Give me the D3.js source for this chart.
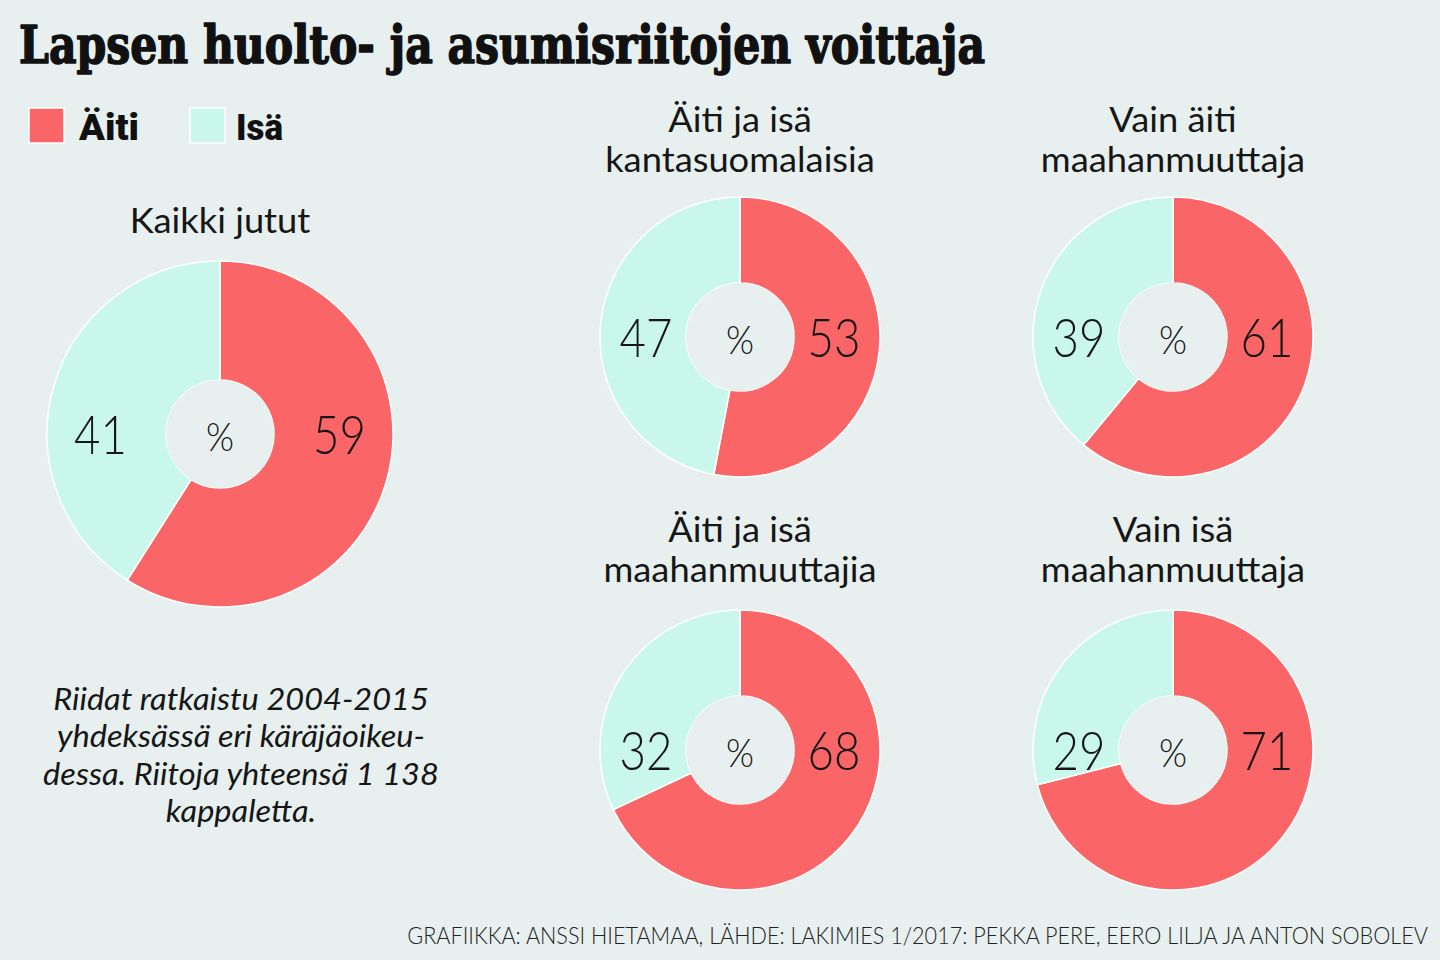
<!DOCTYPE html>
<html>
<head>
<meta charset="utf-8">
<script src="https://cdn.jsdelivr.net/npm/d3@7"></script>
<style>
  html, body { margin: 0; padding: 0; background: #e7f0ef; }
  svg { display: block; }
</style>
</head>
<body>
<svg id="chart" width="1440" height="960"></svg>
<script>
// ---- data ----
const mainTitle = "Lapsen huolto- ja asumisriitojen voittaja";
const seriesNames = ["Äiti", "Isä"];
const chartTitles = [
  ["Kaikki jutut"],
  ["Äiti ja isä", "kantasuomalaisia"],
  ["Vain äiti", "maahanmuuttaja"],
  ["Äiti ja isä", "maahanmuuttajia"],
  ["Vain isä", "maahanmuuttaja"]
];
const aitiValues = [59, 53, 61, 68, 71];
const isaValues  = [41, 47, 39, 32, 29];
const centerLabel = "%";
const noteLines = [
  "Riidat ratkaistu 2004-2015",
  "yhdeksässä eri käräjäoikeu-",
  "dessa. Riitoja yhteensä 1 138",
  "kappaletta."
];
const sourceText = "GRAFIIKKA: ANSSI HIETAMAA, LÄHDE: LAKIMIES 1/2017: PEKKA PERE, EERO LILJA JA ANTON SOBOLEV";

// ---- layout (positions / sizes) ----
const layout = [
  { cx: 220, cy: 434, ro: 173, ri: 54, t1: 233 },
  { cx: 740, cy: 337, ro: 140, ri: 54, t1: 132 },
  { cx: 1173, cy: 337, ro: 140, ri: 54, t1: 132 },
  { cx: 740, cy: 750, ro: 140, ri: 54, t1: 542 },
  { cx: 1173, cy: 750, ro: 140, ri: 54, t1: 542 }
];
const lineGap = 40;
const bg = "#e7f0ef";
const colors = d3.scaleOrdinal().domain(seriesNames).range(["#fa6567", "#c9f7ec"]);
const ink = "#161616";
const sans = "Lato, 'Open Sans', sans-serif";

const svg = d3.select("#chart");
svg.append("rect").attr("width", 1440).attr("height", 960).attr("fill", bg);

// title
svg.append("text")
  .attr("x", 19).attr("y", 63)
  .attr("textLength", 966).attr("lengthAdjust", "spacingAndGlyphs")
  .attr("font-family", "'DejaVu Serif', serif")
  .attr("font-weight", 900)
  .attr("font-size", 52)
  .attr("fill", "#111")
  .attr("stroke", "#111").attr("stroke-width", 1.6).attr("stroke-linejoin", "round")
  .text(mainTitle);

// legend
const legendPos = [{ x: 29, tx: 79, tw: 60 }, { x: 190, tx: 236, tw: 47 }];
const legend = svg.append("g");
seriesNames.forEach((name, i) => {
  legend.append("rect")
    .attr("x", legendPos[i].x).attr("y", 108)
    .attr("width", 35).attr("height", 35)
    .attr("fill", colors(name))
    .attr("stroke", "#ffffff").attr("stroke-width", 1.5);
  legend.append("text")
    .attr("x", legendPos[i].tx).attr("y", 140)
    .attr("textLength", legendPos[i].tw).attr("lengthAdjust", "spacingAndGlyphs")
    .attr("font-family", "Roboto, sans-serif")
    .attr("font-weight", 900)
    .attr("font-size", 37)
    .attr("fill", "#111")
    .text(name);
});

// donuts
const pie = d3.pie().sort(null).value(d => d.value).startAngle(0).endAngle(2 * Math.PI);

chartTitles.forEach((lines, k) => {
  const L = layout[k];
  const g = svg.append("g").attr("transform", `translate(${L.cx},${L.cy})`);
  const data = [
    { name: seriesNames[0], value: aitiValues[k] },
    { name: seriesNames[1], value: isaValues[k] }
  ];
  const arc = d3.arc().innerRadius(L.ri).outerRadius(L.ro);
  const arcs = pie(data);

  g.selectAll("path.slice")
    .data(arcs)
    .join("path")
    .attr("class", "slice")
    .attr("d", arc)
    .attr("fill", d => colors(d.data.name))
    .attr("stroke", "#ffffff")
    .attr("stroke-width", 1.5)
    .attr("stroke-linejoin", "round");

  // inner disc (background colour)
  g.append("circle").attr("r", L.ri).attr("fill", bg);

  // value labels: right side = Äiti, left side = Isä
  const mid = (L.ri + L.ro) / 2 + (L.ro > 150 ? 6 : -3);
  arcs.forEach((a, i) => {
    const x = i === 0 ? mid : -mid;
    g.append("text")
      .attr("transform", `translate(${x},20) scale(0.86,1)`)
      .attr("text-anchor", "middle")
      .attr("font-family", sans)
      .attr("font-weight", 300)
      .attr("font-size", 53)
      .attr("fill", ink)
      .text(a.data.value);
  });

  g.append("text")
    .attr("transform", "translate(0,17) scale(0.9,1)")
    .attr("text-anchor", "middle")
    .attr("font-family", sans)
    .attr("font-weight", 300)
    .attr("font-size", 40)
    .attr("fill", ink)
    .text(centerLabel);

  // chart title lines (slightly smaller font, stretched to keep width)
  lines.forEach((ln, j) => {
    svg.append("text")
      .attr("transform", `translate(${L.cx},${L.t1 + j * lineGap}) scale(1.1,1.05)`)
      .attr("text-anchor", "middle")
      .attr("font-family", sans)
      .attr("font-weight", 400)
      .attr("font-size", 33)
      .attr("fill", ink)
      .text(ln);
  });
});

// note
noteLines.forEach((ln, i) => {
  svg.append("text")
    .attr("x", 241).attr("y", 710 + i * 37.3)
    .attr("text-anchor", "middle")
    .attr("font-family", sans)
    .attr("font-style", "italic")
    .attr("font-weight", 400)
    .attr("font-size", 31)
    .attr("transform", `translate(241,0) scale(1.05,1) translate(-241,0)`)
    .attr("fill", ink)
    .text(ln);
});

// source (scaled to the reference width)
const src = svg.append("text")
  .attr("text-anchor", "end")
  .attr("font-family", sans)
  .attr("font-weight", 300)
  .attr("font-size", 24)
  .attr("fill", "#222")
  .text(sourceText);
const srcLen = src.node().getComputedTextLength();
src.attr("transform", `translate(1428,944) scale(${1021 / srcLen},1)`);
</script>
</body>
</html>
